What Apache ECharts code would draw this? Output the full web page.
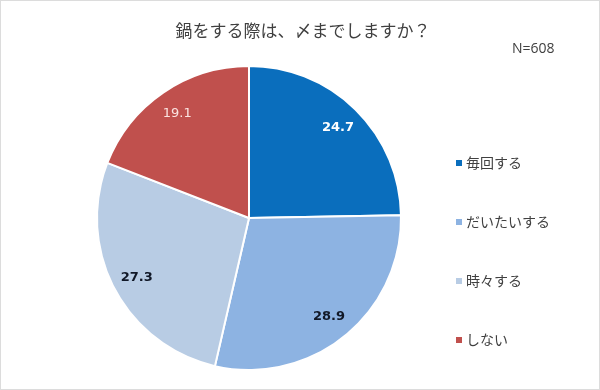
<!DOCTYPE html>
<html><head><meta charset="utf-8">
<script src="https://cdn.jsdelivr.net/npm/echarts@6/dist/echarts.min.js"></script>
<style>html,body{margin:0;padding:0;background:#fff;}#c{width:598px;height:388px;border:1px solid #dcdcdc;}</style>
</head><body><div id="c"></div>
<script>
var categories = ['毎回する', 'だいたいする', '時々する', 'しない'];
var values = [24.7, 28.9, 27.3, 19.1];
var colors = ['#0A6EBD', '#8DB3E2', '#B8CCE4', '#C0504D'];
var labelColors = ['#ffffff', '#111827', '#111827', '#FBE3E0'];
var labelWeights = ['bold', 'bold', 'bold', 'normal'];
var titleText = '鍋をする際は、〆までしますか？';
var nText = 'N=608';

var data = categories.map(function (c, i) {
  return { name: c, value: values[i], itemStyle: { color: colors[i] } };
});
var labelData = categories.map(function (c, i) {
  return { name: c, value: values[i], label: { color: labelColors[i], fontWeight: labelWeights[i] } };
});
var chart = echarts.init(document.getElementById('c'));
var font = '"Noto Sans CJK JP", "Noto Sans", sans-serif';
chart.setOption({
  animation: false,
  backgroundColor: '#fff',
  title: [
    { text: titleText, left: 297, top: 16, textAlign: 'center',
      textStyle: { fontFamily: font, fontSize: 17, fontWeight: 'normal', color: '#404040' } },
    { text: nText, left: 506, top: 36,
      textStyle: { fontFamily: '"Open Sans", sans-serif', fontSize: 14, fontWeight: 'normal', color: '#404040' } }
  ],
  legend: {
    orient: 'vertical', left: 448, top: 150, itemGap: 45,
    itemWidth: 8, itemHeight: 8, icon: 'rect',
    data: categories,
    textStyle: { fontFamily: font, fontSize: 14, color: '#404040', padding: [0, 0, 0, -2] }
  },
  series: [
    { type: 'pie', center: [248, 217], radius: [0, 152], startAngle: 90, clockwise: true,
      data: data, label: { show: false }, labelLine: { show: false },
      itemStyle: { borderColor: '#fff', borderWidth: 2 } },
    { type: 'pie', center: [248, 217], radius: [96, 152], startAngle: 90, clockwise: true,
      silent: true, legendHoverLink: false, data: labelData,
      itemStyle: { color: 'rgba(0,0,0,0)' },
      label: { show: true, position: 'inside', formatter: function (p) { return p.value.toFixed(1); },
        fontFamily: '"DejaVu Sans", Verdana, sans-serif', fontWeight: 'bold', fontSize: 13 },
      labelLine: { show: false } }
  ]
});
</script></body></html>
